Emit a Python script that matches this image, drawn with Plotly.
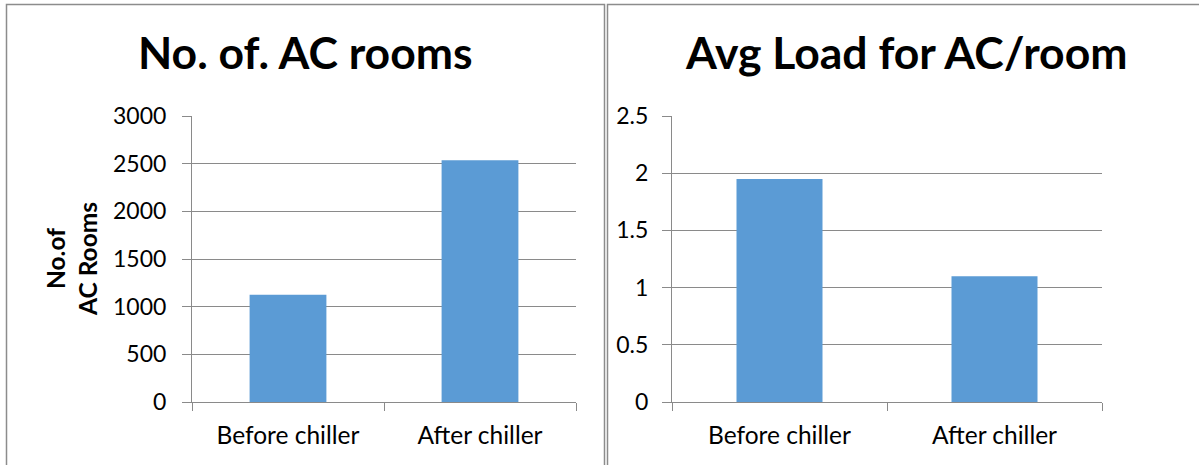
import plotly.graph_objects as go

# Data
categories = ["Before chiller", "After chiller"]
ac_rooms = [1125, 2535]
avg_load = [1.95, 1.1]
rooms_ticks = [0, 500, 1000, 1500, 2000, 2500, 3000]
load_ticks = [0, 0.5, 1, 1.5, 2, 2.5]

W, H = 1199, 465
BAR = "#5B9BD5"
GRID = "#8a8a8a"
FONT = "Lato"

def px_x(v):
    return v / W

def px_y(v):
    return 1 - v / H

fig = go.Figure()
fig.add_trace(go.Bar(x=categories, y=ac_rooms, marker=dict(color=BAR, line=dict(width=0)),
                     width=0.4, xaxis="x", yaxis="y", showlegend=False))
fig.add_trace(go.Bar(x=categories, y=avg_load, marker=dict(color=BAR, line=dict(width=0)),
                     width=0.4, xaxis="x2", yaxis="y2", showlegend=False))

common_x = dict(type="category", range=[-0.5, 1.5], showline=True, linecolor=GRID, linewidth=1,
                ticks="outside", ticklen=8, tickcolor=GRID, tickson="boundaries",
                tickfont=dict(family=FONT, size=24.5, color="#000"), showgrid=False,
                ticklabelstandoff=12, automargin=False)
common_y = dict(showline=True, linecolor=GRID, linewidth=1, ticks="outside", ticklen=9,
                tickcolor=GRID, showgrid=True, gridcolor=GRID, gridwidth=1,
                zeroline=False, tickfont=dict(family=FONT, size=23, color="#000"),
                automargin=False)

y_dom = [px_y(402), px_y(116)]
fig.update_layout(
    template="none",
    width=W, height=H, margin=dict(l=0, r=0, t=0, b=0, autoexpand=False),
    paper_bgcolor="white", plot_bgcolor="white",
    xaxis=dict(domain=[px_x(192), px_x(576)], anchor="y", **common_x),
    yaxis=dict(domain=y_dom, anchor="x", range=[0, 3000], tickvals=rooms_ticks,
               ticklabelstandoff=11, **common_y),
    xaxis2=dict(domain=[px_x(672), px_x(1102)], anchor="y2", **common_x),
    yaxis2=dict(domain=y_dom, anchor="x2", range=[0, 2.5], tickvals=load_ticks,
                ticktext=[str(t) for t in load_ticks], ticklabelstandoff=9, **common_y),
    bargap=0.6,
)

# Panel titles
fig.add_annotation(text="<b>No. of. AC rooms</b>", x=px_x(305), y=px_y(52), xref="paper", yref="paper",
                   showarrow=False, xanchor="center", yanchor="middle",
                   font=dict(family=FONT, size=44.5, color="#000"))
fig.add_annotation(text="<b>Avg Load for AC/room</b>", x=px_x(906), y=px_y(52), xref="paper", yref="paper",
                   showarrow=False, xanchor="center", yanchor="middle",
                   font=dict(family=FONT, size=44.5, color="#000"))
# Y-axis title of the left panel
fig.add_annotation(text="<b>No.of<br>AC Rooms</b>", x=px_x(71), y=px_y(259), xref="paper", yref="paper",
                   showarrow=False, xanchor="center", yanchor="middle", textangle=-90,
                   font=dict(family=FONT, size=24.5, color="#000"))

# Panel borders
BORDER = "#8c8c8c"
fig.add_shape(type="rect", xref="paper", yref="paper", x0=px_x(6.5), x1=px_x(604.5),
              y0=px_y(480), y1=px_y(4.5), line=dict(color=BORDER, width=1.5), fillcolor="rgba(0,0,0,0)")
fig.add_shape(type="rect", xref="paper", yref="paper", x0=px_x(607.5), x1=px_x(1215),
              y0=px_y(480), y1=px_y(4.5), line=dict(color=BORDER, width=1.5), fillcolor="rgba(0,0,0,0)")

fig.write_html("out.html")
